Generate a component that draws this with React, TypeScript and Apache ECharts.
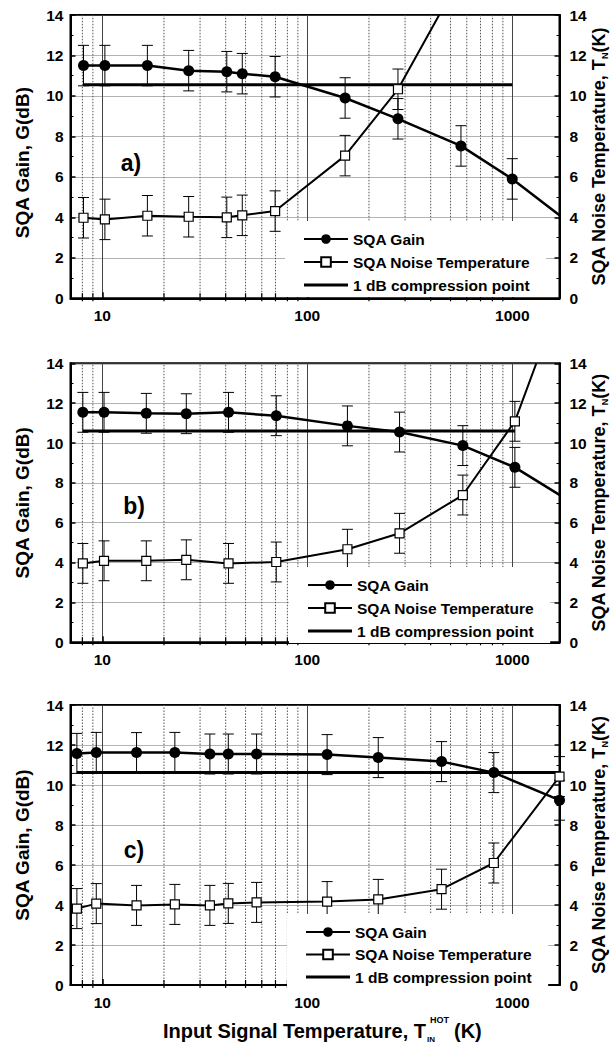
import React, { useEffect, useRef } from "react";
import * as echarts from "echarts";

const FONT = '"Liberation Sans", Arial, Helvetica, sans-serif';

// ---- data ----
const panelLabels = ["a)", "b)", "c)"];
const xTickLabels = [10, 100, 1000];
const xMin = 7;
const xMax = 1700;
const yMin = 0;
const yMax = 14;
const yInterval = 2;
const minorGridX = [8, 9, 20, 30, 40, 50, 60, 70, 80, 90, 200, 300, 400, 500, 600, 700, 800, 900];
const errGain = 1;
const errNoise = 1;

// panel a
const aX = [8.1, 10.3, 16.6, 26.4, 40.5, 48.2, 69.7, 153, 277, 562, 1000];
const aGain = [11.5, 11.5, 11.5, 11.25, 11.2, 11.1, 10.95, 9.9, 8.87, 7.53, 5.9];
const aNoise = [3.98, 3.9, 4.08, 4.03, 4.0, 4.1, 4.31, 7.05, 10.33];
const aGainTail = [1700, 4.1];
const aNoiseTail = [440, 14];

// panel b
const bX = [8.04, 10.2, 16.4, 25.7, 41.3, 70.6, 157, 282, 574, 1030];
const bGain = [11.54, 11.54, 11.49, 11.47, 11.54, 11.37, 10.86, 10.55, 9.87, 8.78];
const bNoise = [3.96, 4.09, 4.09, 4.14, 3.96, 4.03, 4.67, 5.47, 7.39, 11.09];
const bGainTail = [1700, 7.4];
const bNoiseTail = [1310, 14];

// panel c
const cX = [7.52, 9.35, 14.7, 22.6, 33.5, 41.2, 56.6, 125, 222, 452, 813, 1700];
const cGain = [11.58, 11.63, 11.62, 11.63, 11.55, 11.55, 11.55, 11.52, 11.37, 11.17, 10.62, 9.24];
const cNoise = [3.82, 4.07, 3.98, 4.03, 3.98, 4.08, 4.13, 4.17, 4.28, 4.79, 6.1, 10.42];

// 1 dB compression lines
const compLevel = [10.55, 10.6, 10.62];
const compStart = [8.1, 8.04, 7.52];
const compEnd = [1000, 1030, 1700];

const legendNames = ["SQA Gain", "SQA Noise Temperature", "1 dB compression point"];

// ---- layout ----
const GRID_LEFT = 70.5;
const GRID_WIDTH = 489;
const gridTops = [15, 363.3, 705];
const gridHeights = [283.3, 279, 280];
const legendTops = [221, 567, 914];
const legendLefts = [285, 289, 287];
const legendGaps = [7, 7, 6.5];

const panels = [
  { xs: aX, gain: aGain, noise: aNoise, gainTail: aGainTail, noiseTail: aNoiseTail },
  { xs: bX, gain: bGain, noise: bNoise, gainTail: bGainTail, noiseTail: bNoiseTail },
  { xs: cX, gain: cGain, noise: cNoise, gainTail: null as number[] | null, noiseTail: null as number[] | null },
];

const isPow10 = (v: number) => {
  const l = Math.log10(v);
  return Math.abs(l - Math.round(l)) < 1e-6 && xTickLabels.includes(Math.round(v));
};

function errRender(err: number) {
  return (params: any, api: any) => {
    const x = api.value(0);
    const y = api.value(1);
    const p1 = api.coord([x, y + err]);
    const p2 = api.coord([x, y - err]);
    const w = 5.5;
    const style = { stroke: "#000", lineWidth: 1, fill: null };
    return {
      type: "group",
      children: [
        { type: "line", shape: { x1: p1[0], y1: p1[1], x2: p2[0], y2: p2[1] }, style },
        { type: "line", shape: { x1: p1[0] - w, y1: p1[1], x2: p1[0] + w, y2: p1[1] }, style },
        { type: "line", shape: { x1: p2[0] - w, y1: p2[1], x2: p2[0] + w, y2: p2[1] }, style },
      ],
    };
  };
}

function vGridRender(params: any, api: any) {
  const x = api.value(0);
  const p1 = api.coord([x, yMin]);
  const p2 = api.coord([x, yMax]);
  return {
    type: "group",
    children: [
      {
        type: "line",
        shape: { x1: p1[0], y1: p1[1], x2: p2[0], y2: p2[1] },
        style: { stroke: "#555", lineWidth: 1, lineDash: [1.5, 1.5], fill: null },
      },
      {
        type: "line",
        shape: { x1: p1[0], y1: p1[1] + 3, x2: p1[0], y2: p1[1] - 5 },
        style: { stroke: "#000", lineWidth: 1.2, fill: null },
      },
    ],
  };
}

const compIcon =
  "path://M0,0h0.01v0.01h-0.01zM0,4.5h44v3h-44zM43.99,11.99h0.01v0.01h-0.01z";

function buildOption() {
  const grid: any[] = [];
  const xAxis: any[] = [];
  const yAxis: any[] = [];
  const series: any[] = [];
  const legend: any[] = [];
  const graphic: any[] = [];

  panels.forEach((p, i) => {
    grid.push({
      left: GRID_LEFT,
      width: GRID_WIDTH,
      top: gridTops[i],
      height: gridHeights[i],
      show: true,
      borderColor: "#000",
      borderWidth: 2,
      backgroundColor: "transparent",
    });
    xAxis.push({
      type: "log",
      logBase: 10,
      gridIndex: i,
      min: xMin,
      max: xMax,
      axisLine: { show: true, lineStyle: { color: "#000", width: 2 } },
      axisTick: { show: true, inside: true, length: 6, lineStyle: { color: "#000", width: 1.5 } },
      axisLabel: {
        show: true,
        margin: 9,
        color: "#000",
        fontFamily: FONT,
        fontWeight: "bold",
        fontSize: 15.5,
        showMinLabel: false,
        showMaxLabel: false,
        formatter: (v: number) => (isPow10(v) ? String(Math.round(v)) : ""),
      },
      splitLine: { show: true, lineStyle: { color: "#444", width: 1, type: "solid" } },
    });
    const yCommon = {
      type: "value",
      gridIndex: i,
      min: yMin,
      max: yMax,
      interval: yInterval,
      axisLine: { show: true, lineStyle: { color: "#000", width: 2 } },
      axisTick: { show: true, inside: true, length: 5, lineStyle: { color: "#000", width: 1.5 } },
      minorTick: { show: true, splitNumber: 2, length: 3, lineStyle: { color: "#000", width: 1 } },
      axisLabel: {
        color: "#000",
        fontFamily: FONT,
        fontWeight: "bold",
        fontSize: 15.5,
      },
    };
    yAxis.push({
      ...yCommon,
      position: "left",
      axisLabel: { ...yCommon.axisLabel, margin: 7 },
      splitLine: { show: true, lineStyle: { color: "#666", width: 1, type: "dotted" } },
    });
    yAxis.push({
      ...yCommon,
      position: "right",
      axisLabel: { ...yCommon.axisLabel, margin: 10 },
      splitLine: { show: false },
    });

    const yl = 2 * i;
    const yr = 2 * i + 1;

    // minor vertical grid lines (and minor ticks) at 2..9 x decade, through the axis scale
    series.push({
      type: "custom",
      name: "vgrid" + i,
      xAxisIndex: i,
      yAxisIndex: yl,
      silent: true,
      z: 1,
      renderItem: vGridRender,
      data: minorGridX.map((v) => [v, yMin]),
    });

    // error bars
    series.push({
      type: "custom",
      name: "gainErr" + i,
      xAxisIndex: i,
      yAxisIndex: yl,
      z: 3,
      silent: true,
      renderItem: errRender(errGain),
      data: p.xs.map((x, k) => [x, p.gain[k]]),
    });
    series.push({
      type: "custom",
      name: "noiseErr" + i,
      xAxisIndex: i,
      yAxisIndex: yr,
      z: 3,
      silent: true,
      renderItem: errRender(errNoise),
      data: p.noise.map((v, k) => [p.xs[k], v]),
    });

    // compression line
    series.push({
      type: "line",
      name: "1 dB compression point",
      xAxisIndex: i,
      yAxisIndex: yl,
      data: [
        [compStart[i], compLevel[i]],
        [compEnd[i], compLevel[i]],
      ],
      symbol: "none",
      z: 4,
      lineStyle: { color: "#000", width: 3 },
      itemStyle: { color: "#000" },
    });

    const gainData: any[] = p.xs.map((x, k) => [x, p.gain[k]]);
    if (p.gainTail) gainData.push({ value: p.gainTail, symbol: "none" });
    series.push({
      type: "line",
      name: "SQA Gain",
      xAxisIndex: i,
      yAxisIndex: yl,
      data: gainData,
      symbol: "circle",
      symbolSize: 11,
      showAllSymbol: true,
      z: 5,
      lineStyle: { color: "#000", width: 2.5 },
      itemStyle: { color: "#000" },
    });

    const noiseData: any[] = p.noise.map((v, k) => [p.xs[k], v]);
    if (p.noiseTail) noiseData.push({ value: p.noiseTail, symbol: "none" });
    series.push({
      type: "line",
      name: "SQA Noise Temperature",
      xAxisIndex: i,
      yAxisIndex: yr,
      data: noiseData,
      symbol: "rect",
      symbolSize: 9,
      showAllSymbol: true,
      z: 6,
      lineStyle: { color: "#000", width: 2 },
      itemStyle: { color: "#fff", borderColor: "#000", borderWidth: 1.2 },
    });

    legend.push({
      data: [
        { name: legendNames[0] },
        { name: legendNames[1] },
        { name: legendNames[2], icon: compIcon, itemStyle: { color: "#000", borderWidth: 0 } },
      ],
      orient: "vertical",
      left: legendLefts[i],
      top: legendTops[i],
      itemWidth: 44,
      itemHeight: 12,
      itemGap: legendGaps[i],
      padding: [10, 16, 4, 18],
      backgroundColor: "#fff",
      selectedMode: false,
      z: 10,
      textStyle: { color: "#000", fontFamily: FONT, fontWeight: "bold", fontSize: 15.5 },
    });

    const midY = gridTops[i] + gridHeights[i] / 2;
    graphic.push({
      type: "text",
      x: 22,
      y: midY + (i === 0 ? 6 : 0),
      rotation: Math.PI / 2,
      style: {
        text: "SQA Gain, G(dB)",
        font: `bold 19px ${FONT}`,
        fill: "#000",
        align: "center",
        verticalAlign: "middle",
      },
    });
    graphic.push({
      type: "text",
      x: 599,
      y: midY,
      rotation: Math.PI / 2,
      style: {
        text: "{a|SQA Noise Temperature, T}{s|N}{a|(K)}",
        align: "center",
        verticalAlign: "middle",
        rich: {
          a: { fontFamily: FONT, fontWeight: "bold", fontSize: 18, lineHeight: 20, fill: "#000", verticalAlign: "middle" },
          s: { fontFamily: FONT, fontWeight: "bold", fontSize: 9, fill: "#000", verticalAlign: "bottom" },
        },
      },
    });
    graphic.push({
      type: "text",
      x: 131 + (i === 0 ? 0 : 3),
      y: [163, 506, 850][i],
      style: {
        text: panelLabels[i],
        font: `bold 23px ${FONT}`,
        fill: "#000",
        align: "center",
        verticalAlign: "middle",
      },
    });
  });

  graphic.push(
    {
      type: "text",
      x: 426,
      y: 1031,
      style: { text: "Input Signal Temperature, T", font: `bold 20px ${FONT}`, fill: "#000", align: "right", verticalAlign: "middle" },
    },
    {
      type: "text",
      x: 427,
      y: 1039,
      style: { text: "IN", font: `bold 8px ${FONT}`, fill: "#000", align: "left", verticalAlign: "middle" },
    },
    {
      type: "text",
      x: 430,
      y: 1020,
      style: { text: "HOT", font: `bold 9px ${FONT}`, fill: "#000", align: "left", verticalAlign: "middle" },
    },
    {
      type: "text",
      x: 454,
      y: 1031,
      style: { text: "(K)", font: `bold 20px ${FONT}`, fill: "#000", align: "left", verticalAlign: "middle" },
    }
  );

  return {
    animation: false,
    backgroundColor: "#fff",
    grid,
    xAxis,
    yAxis,
    series,
    legend,
    graphic,
  };
}

export default function App() {
  const ref = useRef<HTMLDivElement>(null);
  useEffect(() => {
    if (!ref.current) return;
    const chart = echarts.init(ref.current, null, { renderer: "svg" });
    chart.setOption(buildOption() as any);
    return () => chart.dispose();
  }, []);
  return (
    <div
      ref={ref}
      style={{ position: "fixed", left: 0, top: 0, width: 611, height: 1044, background: "#fff" }}
    />
  );
}
